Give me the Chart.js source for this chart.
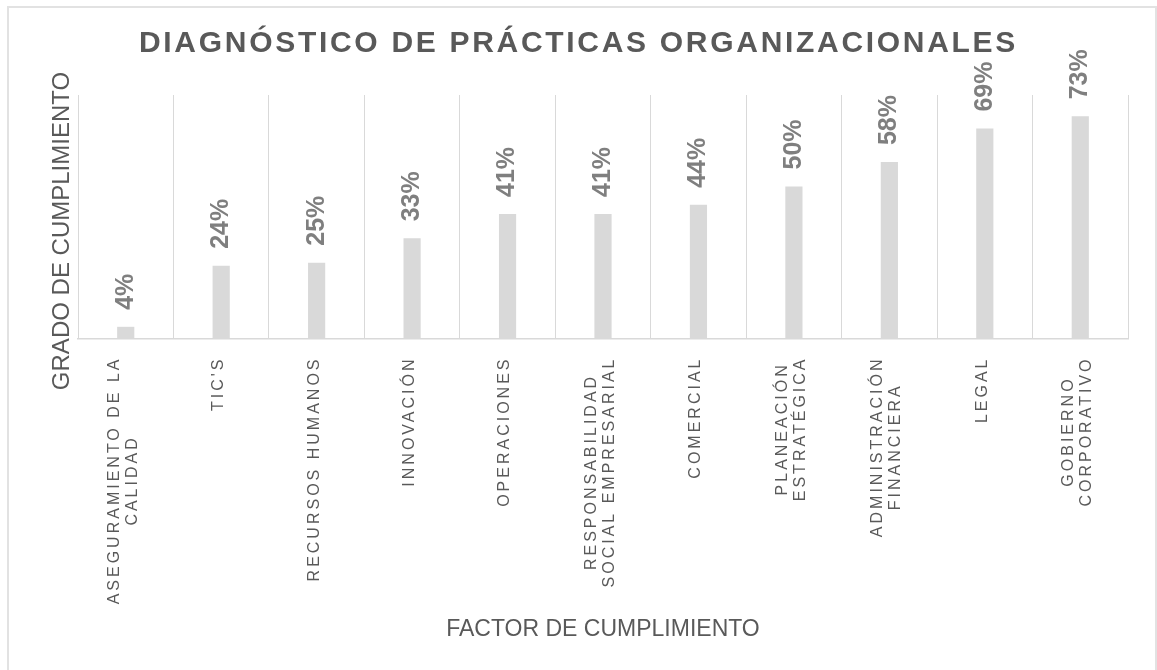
<!DOCTYPE html>
<html>
<head>
<meta charset="utf-8">
<title>Diagnóstico de prácticas organizacionales</title>
<script src="https://cdn.jsdelivr.net/npm/chart.js"></script>
<style>
    html, body { margin: 0; padding: 0; background: #fff; overflow: hidden; }
    .frame {
        position: absolute; left: 7px; top: 6px;
        width: 1146px; height: 662px;
        border: 2px solid #e2e2e2; border-bottom: none;
    }
    #chart { position: absolute; left: 0; top: 0; }
</style>
</head>
<body>
<div class="frame"></div>
<canvas id="chart" width="1157" height="670"></canvas>
<script>
    // datos
    const categories = [
        ['ASEGURAMIENTO DE LA', 'CALIDAD'],
        "TIC'S",
        'RECURSOS HUMANOS',
        'INNOVACIÓN',
        'OPERACIONES',
        ['RESPONSABILIDAD', 'SOCIAL EMPRESARIAL'],
        'COMERCIAL',
        ['PLANEACIÓN', 'ESTRATÉGICA'],
        ['ADMINISTRACIÓN', 'FINANCIERA'],
        'LEGAL',
        ['GOBIERNO', 'CORPORATIVO']
    ];
    const values = [4, 24, 25, 33, 41, 41, 44, 50, 58, 69, 73];
    const yMax = 80;

    const chartTitle = 'DIAGNÓSTICO DE PRÁCTICAS ORGANIZACIONALES';
    const yTitle = 'GRADO DE CUMPLIMIENTO';
    const xTitle = 'FACTOR DE CUMPLIMIENTO';

    const fontFamily = '"Liberation Sans", Arial, sans-serif';
    const textColor = '#595959';
    const labelColor = '#7f7f7f';
    const barColor = '#d9d9d9';
    const lineColor = '#d9d9d9';

    const tickFontSize = 16;
    const tickLineHeight = 18;
    const tickSpacing = '3px';
    const titleSpacing = '2.7px';

    Chart.defaults.font.family = fontFamily;
    Chart.defaults.color = textColor;

    // etiquetas del eje x: rotadas, espaciadas y centradas linea por linea
    function drawCategoryLabels() {
        const ctx = this.ctx;
        ctx.save();
        ctx.font = `${tickFontSize}px ${fontFamily}`;
        ctx.letterSpacing = tickSpacing;
        ctx.fillStyle = textColor;
        ctx.textAlign = 'center';
        ctx.textBaseline = 'middle';
        this.ticks.forEach((tick, i) => {
            const lines = [].concat(tick.label);
            const width = Math.max(...lines.map(l => ctx.measureText(l).width));
            ctx.save();
            ctx.translate(this.getPixelForTick(i) - 2.5, this.top + 17.5);
            ctx.rotate(-Math.PI / 2);
            lines.forEach((line, j) => {
                ctx.fillText(line, -width / 2, (j - (lines.length - 1) / 2) * tickLineHeight);
            });
            ctx.restore();
        });
        ctx.restore();
    }

    const stylePlugin = {
        id: 'stylePlugin',
        beforeDraw(chart) {
            const title = chart.titleBlock;
            if (title && !title._spaced) {
                const draw = title.draw;
                title.draw = function (area) {
                    this.ctx.save();
                    this.ctx.letterSpacing = titleSpacing;
                    draw.call(this, area);
                    this.ctx.restore();
                };
                title._spaced = true;
            }
            const x = chart.scales.x;
            if (!x._spaced) {
                x.drawLabels = drawCategoryLabels;
                x._spaced = true;
            }
            const y = chart.scales.y;
            if (!y._shifted) {
                const drawTitle = y.drawTitle;
                y.drawTitle = function () {
                    this.ctx.save();
                    this.ctx.translate(0, 14);
                    drawTitle.call(this);
                    this.ctx.restore();
                };
                y._shifted = true;
            }
        },
        afterDatasetsDraw(chart) {
            const ctx = chart.ctx;
            const meta = chart.getDatasetMeta(0);
            ctx.save();
            ctx.font = `bold 25px ${fontFamily}`;
            ctx.fillStyle = labelColor;
            ctx.textAlign = 'left';
            ctx.textBaseline = 'middle';
            meta.data.forEach((bar, i) => {
                ctx.save();
                ctx.translate(bar.x, bar.y - 17);
                ctx.rotate(-Math.PI / 2);
                ctx.fillText(values[i] + '%', 0, 0);
                ctx.restore();
            });
            ctx.restore();
        }
    };

    new Chart(document.getElementById('chart'), {
        type: 'bar',
        data: {
            labels: categories,
            datasets: [{
                data: values,
                backgroundColor: barColor,
                borderWidth: 0,
                barPercentage: 0.18,
                categoryPercentage: 1
            }]
        },
        options: {
            responsive: false,
            animation: false,
            layout: { padding: 0 },
            plugins: {
                legend: { display: false },
                tooltip: { enabled: false },
                title: {
                    display: true,
                    text: chartTitle,
                    color: textColor,
                    font: { size: 30, weight: 'bold', lineHeight: 1.2 },
                    padding: { top: 26, bottom: 33 }
                }
            },
            scales: {
                x: {
                    grid: { display: true, color: lineColor, lineWidth: 1, drawTicks: false, offset: true },
                    border: { display: true, color: lineColor, width: 1.5 },
                    ticks: { display: true, minRotation: 90, maxRotation: 90, autoSkip: false },
                    title: {
                        display: true,
                        text: xTitle,
                        color: textColor,
                        font: { size: 23, lineHeight: 1.2 },
                        padding: { top: 0, bottom: 27 }
                    },
                    afterFit: scale => { scale.height = 331; }
                },
                y: {
                    min: 0,
                    max: yMax,
                    grid: { display: false },
                    border: { display: false },
                    ticks: { display: false },
                    title: {
                        display: true,
                        text: yTitle,
                        color: textColor,
                        font: { size: 24, lineHeight: 1.2 },
                        padding: { top: 48, bottom: 0 }
                    },
                    afterFit: scale => { scale.width = 78; }
                },
                right: {
                    position: 'right',
                    display: true,
                    grid: { display: false },
                    border: { display: false },
                    ticks: { display: false },
                    afterFit: scale => { scale.width = 29; }
                }
            }
        },
        plugins: [stylePlugin]
    });
</script>
</body>
</html>
